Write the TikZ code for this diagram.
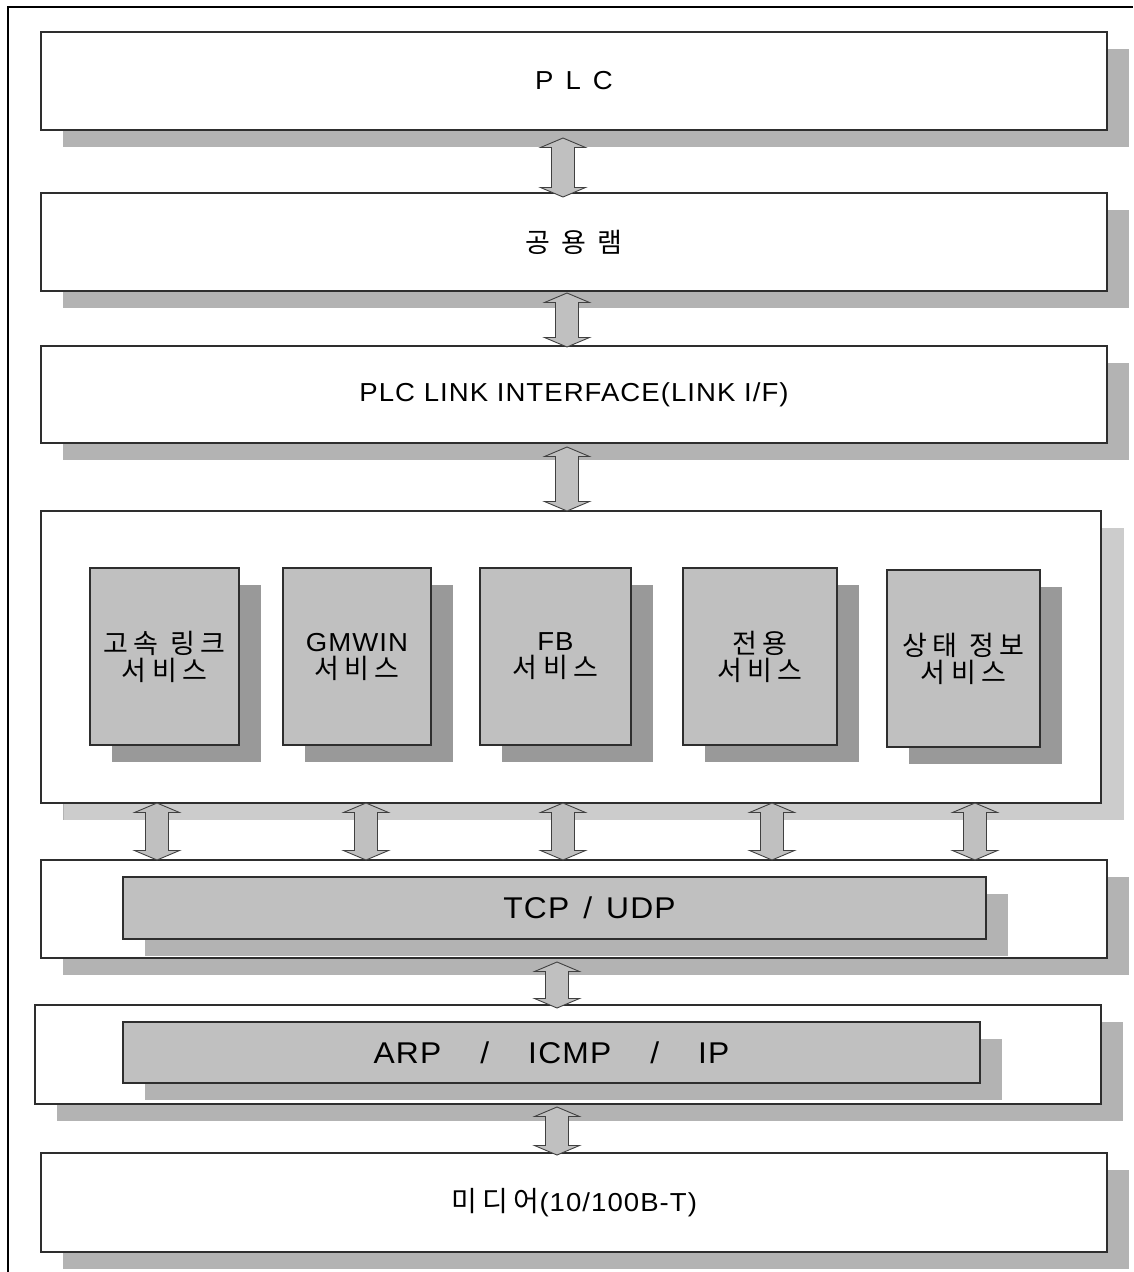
\documentclass[tikz,border=0pt]{standalone}
\usepackage{fontspec}
\setmainfont{Liberation Sans}[LetterSpace=4, FakeStretch=1.06]
\newfontfamily\krfont{Noto Sans CJK KR}[LetterSpace=20]
\newcommand{\krtext}[1]{{\krfont\fontsize{27}{27}\selectfont #1}}
\usetikzlibrary{calc,shadows}

\definecolor{edge}{HTML}{2E2E2E}
\definecolor{shadeA}{HTML}{B3B3B3}
\definecolor{shadeB}{HTML}{CCCCCC}
\definecolor{shadeC}{HTML}{999999}
\definecolor{panel}{HTML}{C0C0C0}
\definecolor{arrowline}{HTML}{404040}

\tikzset{
  layerbox/.style={draw=edge, line width=1.6pt, fill=white, inner sep=0pt,
    outer sep=0pt, anchor=north west, align=center,
    font=\fontsize{26}{27}\selectfont,
    general shadow={fill=shadeA, shadow xshift=22pt, shadow yshift=-17pt}},
  corebox/.style={layerbox,
    general shadow={fill=shadeB, shadow xshift=23pt, shadow yshift=-17pt}},
  svcbox/.style={layerbox, fill=panel, minimum height=177pt,
    general shadow={fill=shadeC, shadow xshift=22pt, shadow yshift=-17pt}},
  protobox/.style={layerbox, fill=panel, font=\fontsize{30}{32}\selectfont},
  dblarrow/.style={draw=arrowline, fill=panel, line width=0.9pt,
    to path={let \p1=(\tikztostart), \p2=(\tikztotarget) in
      (\x1,\y1) -- (\x1+22.5pt,\y1-9.5pt) -- (\x1+11.5pt,\y1-9.5pt)
      -- (\x1+11.5pt,\y2+9.5pt) -- (\x1+22.5pt,\y2+9.5pt) -- (\x1,\y2)
      -- (\x1-22.5pt,\y2+9.5pt) -- (\x1-11.5pt,\y2+9.5pt)
      -- (\x1-11.5pt,\y1-9.5pt) -- (\x1-22.5pt,\y1-9.5pt) -- cycle}}
}

\begin{document}
\begin{tikzpicture}[x=1pt, y=-1pt]
\useasboundingbox (0,0) rectangle (1133,1272);

% page frame (top and left edges)
\draw[line width=1.5pt, black] (8,1272) -- (8,7) -- (1133,7);

% upper layers
\node[layerbox, minimum width=1066pt, minimum height=98pt] (plc) at (41,32) {P\hspace{12pt}L\hspace{12pt}C};
\node[layerbox, minimum width=1066pt, minimum height=98pt] (ram) at (41,193) {\krtext{공 용 램}};
\node[layerbox, minimum width=1066pt, minimum height=97pt] (link) at (41,346) {PLC LINK INTERFACE(LINK I/F)};

% service layer
\node[corebox, minimum width=1060pt, minimum height=292pt] (core) at (41,511) {};
\node[svcbox, minimum width=149pt] (svc1) at (90,568) {\krtext{고속 링크}\\\krtext{서비스}};
\node[svcbox, minimum width=148pt] (svc2) at (283,568) {GMWIN\\\krtext{서비스}};
\node[svcbox, minimum width=151pt] (svc3) at (480,568) {FB\\\krtext{서비스}};
\node[svcbox, minimum width=154pt] (svc4) at (683,568) {\krtext{전용}\\\krtext{서비스}};
\node[svcbox, minimum width=153pt] (svc5) at (887,570) {\krtext{상태 정보}\\\krtext{서비스}};

% transport layer
\node[layerbox, minimum width=1066pt, minimum height=98pt] (tcp) at (41,860) {};
\node[protobox, minimum width=863pt, minimum height=62pt,
  label={[xshift=35pt, font=\fontsize{30}{32}\selectfont]center:TCP\hspace{14pt}/\hspace{14pt}UDP}] (tcpin) at (123,877) {};

% network layer
\node[layerbox, minimum width=1066pt, minimum height=99pt] (ip) at (35,1005) {};
\node[protobox, minimum width=857pt, minimum height=61pt] (ipin) at (123,1022)
  {ARP\hspace{39pt}/\hspace{39pt}ICMP\hspace{39pt}/\hspace{39pt}IP};

% media
\node[layerbox, minimum width=1066pt, minimum height=99pt] (media) at (41,1153)
  {{\krfont\fontsize{28}{28}\selectfont 미디어}(10/100B-T)};

% two-way arrows between layers
\draw[dblarrow] ([xshift=-11pt, yshift=-8pt]plc.south) to ([yshift=-4pt]ram.north);
\draw[dblarrow] ([xshift=-7pt, yshift=-2pt]ram.south) to ([yshift=-1pt]link.north);
\draw[dblarrow] ([xshift=-7pt, yshift=-4pt]link.south) to ([yshift=0pt]core.north);
\draw[dblarrow] ([xshift=-414pt]core.south) to (tcp.north);
\draw[dblarrow] ([xshift=-205pt]core.south) to (tcp.north);
\draw[dblarrow] ([xshift=-8pt]core.south) to (tcp.north);
\draw[dblarrow] ([xshift=201pt]core.south) to (tcp.north);
\draw[dblarrow] ([xshift=404pt]core.south) to (tcp.north);
\draw[dblarrow] ([xshift=-17pt, yshift=-4pt]tcp.south) to ([yshift=-3pt]ip.north);
\draw[dblarrow] ([xshift=-11pt, yshift=-3pt]ip.south) to ([yshift=-2pt]media.north);
\end{tikzpicture}
\end{document}
